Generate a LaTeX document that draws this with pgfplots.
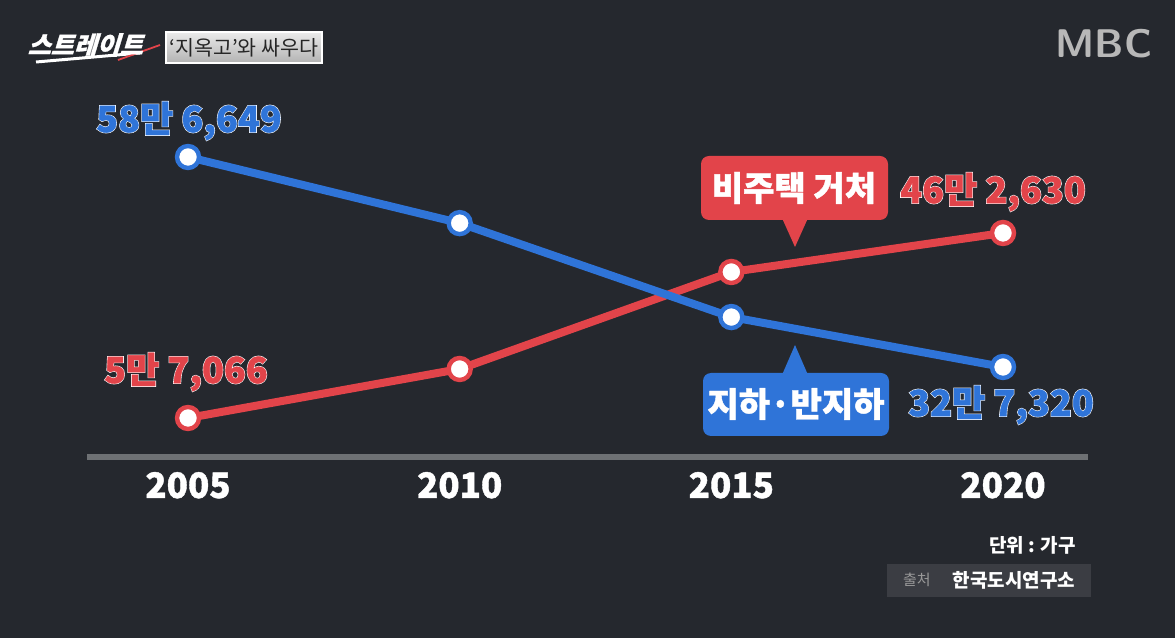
\documentclass[border=0pt]{standalone}
\usepackage{fontspec}
\setmainfont{Noto Sans CJK KR}
\newfontfamily\heavy{Noto Sans CJK KR}[BoldFeatures={FakeBold=1.2}]
\newfontfamily\outl{Noto Sans CJK KR}[BoldFeatures={FakeBold=4.5}]
\usepackage{pgfplots}
\pgfplotsset{compat=1.18}
\definecolor{bg}{HTML}{25282E}
\definecolor{cblue}{HTML}{2F74D8}
\definecolor{cred}{HTML}{E2444A}
\definecolor{axgray}{HTML}{6E7174}
\newcommand{\vlab}[4]{% x, y, color, text
  \node[text=white, font=\outl\fontsize{18}{18}\selectfont\bfseries] at (#1,#2) {#4};
  \node[text=#3, font=\heavy\fontsize{18}{18}\selectfont\bfseries] at (#1,#2) {#4};}
\begin{document}
\begin{tikzpicture}
% background 1175x638 px, 1px = 0.5pt
\fill[bg] (0,0) rectangle (587.5pt,319pt);
% blue series axis (지하·반지하) with x axis
\begin{axis}[
  at={(43.5pt,90.5pt)}, anchor=south west,
  scale only axis, width=500.5pt, height=153.5pt,
  xmin=2003.141, xmax=2021.564,
  ymin=216179, ymax=595293,
  axis x line*=bottom, axis y line=none,
  x axis line style={line width=3pt, color=axgray, -},
  xtick={2005,2010,2015,2020},
  xticklabels={2005,2010,2015,2020},
  major tick length=0pt,
  xticklabel style={font=\heavy\fontsize{17.5}{17.5}\selectfont\bfseries, text=white, yshift=-4pt},
  clip=false,
]
\addplot[draw=none] coordinates {(2005,586649)};
\end{axis}
% red series axis (비주택 거처)
\begin{axis}[
  at={(43.5pt,90.5pt)}, anchor=south west,
  scale only axis, width=500.5pt, height=153.5pt,
  xmin=2003.141, xmax=2021.564,
  ymin=-28430, ymax=644576,
  hide axis, clip=false,
]
\addplot[cred, line width=4pt, mark=*, mark size=5.5pt,
  mark options={fill=white, draw=cred, line width=2.2pt}]
  coordinates {(2005,57066) (2010,164484) (2015,377127) (2020,462630)};
\end{axis}
% blue series on top
\begin{axis}[
  at={(43.5pt,90.5pt)}, anchor=south west,
  scale only axis, width=500.5pt, height=153.5pt,
  xmin=2003.141, xmax=2021.564,
  ymin=216179, ymax=595293,
  hide axis, clip=false,
]
\addplot[cblue, line width=4pt, mark=*, mark size=5.5pt,
  mark options={fill=white, draw=cblue, line width=2.2pt}]
  coordinates {(2005,586649) (2010,505000) (2015,389000) (2020,327320)};
\end{axis}
% annotations in pixel coordinates
\begin{scope}[x=0.5pt, y=-0.5pt, yshift=319pt]
  % value labels
  \vlab{189}{121}{cblue}{58만 6,649}
  \vlab{186}{372}{cred}{5만 7,066}
  \vlab{993}{192}{cred}{46만 2,630}
  \vlab{1001}{405}{cblue}{32만 7,320}
  % red callout
  \fill[cred, rounded corners=4pt] (701,156) rectangle (888,220);
  \fill[cred] (782,218) -- (808,218) -- (795,247) -- cycle;
  \node[text=white, font=\heavy\fontsize{17}{17}\selectfont\bfseries] at (794,188) {비주택 거처};
  % blue callout
  \fill[cblue, rounded corners=4pt] (703,373) rectangle (889,436);
  \fill[cblue] (782,375) -- (808,375) -- (795,345) -- cycle;
  \node[text=white, font=\heavy\fontsize{17}{17}\selectfont\bfseries] at (796,404) {지하·반지하};
  % header
  \draw[white, line width=1.5pt] (36,62) -- (140,53);
  \draw[cred, line width=0.9pt] (118,60) -- (160,45);
  \node[text=white, font=\heavy\fontsize{12.5}{12.5}\selectfont\bfseries, xslant=0.3, transform shape] at (88,45) {스트레이트};
  \shade[top color=white!92!black, bottom color=white!70!black, draw=white, line width=0.6pt] (166,32) rectangle (322,63);
  \node[text=black!85, font=\fontsize{10.3}{10.3}\selectfont] at (244,47.5) {‘지옥고’와 싸우다};
  \node[text=white!72!black, font=\heavy\fontsize{20}{20}\selectfont\bfseries\sffamily] at (1104,44) {MBC};
  % footer
  \node[anchor=east, text=white, font=\fontsize{9.5}{9.5}\selectfont\bfseries] at (1083,545) {단위 : 가구};
  \fill[white!10!bg] (887,564) rectangle (1091,597);
  \node[anchor=west, text=white!60!black, font=\fontsize{7.5}{7.5}\selectfont] at (896,580) {출처};
  \node[text=white, font=\fontsize{9.5}{9.5}\selectfont\bfseries] at (1014,580) {한국도시연구소};
\end{scope}
\end{tikzpicture}
\end{document}
